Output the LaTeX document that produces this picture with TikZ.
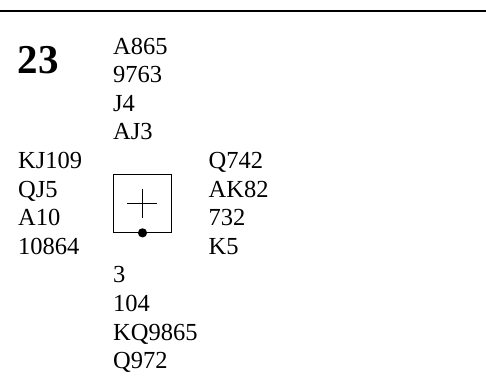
\documentclass[tikz,border=0pt]{standalone}
\usepackage{fontspec}
\setmainfont{Liberation Serif}
\begin{document}
\begin{tikzpicture}[x=1pt,y=-1pt,
  card/.style={anchor=base west,inner sep=0pt,font=\fontsize{24.5}{28}\selectfont},
  num/.style={anchor=base west,inner sep=0pt,font=\fontsize{41}{44}\selectfont\bfseries},
  rule/.style={line width=1.5pt},
  tablebox/.style={draw,line width=1.3pt,minimum width=58pt,minimum height=58pt,inner sep=0pt},
  crossline/.style={line width=1pt}]
\useasboundingbox (0,0) rectangle (486,383);
\coordinate (ruleL) at (0,11);
\coordinate (ruleR) at (486,11);
\draw[rule] (ruleL) -- (ruleR);
\node[num] (board) at (17.5,73.3) {23};
% North
\node[card] (n1) at (113,54) {A865};
\node[card] (n2) at (113,82.6) {9763};
\node[card] (n3) at (113,111.2) {J4};
\node[card] (n4) at (113,139.8) {AJ3};
% West
\node[card] (w1) at (18,168.4) {KJ109};
\node[card] (w2) at (18,197) {QJ5};
\node[card] (w3) at (18,225.6) {A10};
\node[card] (w4) at (18,254.2) {10864};
% East
\node[card] (e1) at (208.5,168.4) {Q742};
\node[card] (e2) at (208.5,197) {AK82};
\node[card] (e3) at (208.5,225.6) {732};
\node[card] (e4) at (208.5,254.2) {K5};
% South
\node[card] (s1) at (113,282.8) {3};
\node[card] (s2) at (113,311.4) {104};
\node[card] (s3) at (113,340) {KQ9865};
\node[card] (s4) at (113,368.6) {Q972};
% table
\node[tablebox] (tbl) at (142.5,203.2) {};
\coordinate (hl) at (127,203.3);
\coordinate (hr) at (157,203.3);
\coordinate (vt) at (142,189);
\coordinate (vb) at (142,218);
\draw[crossline] (hl) -- (hr);
\draw[crossline] (vt) -- (vb);
\fill (tbl.south) circle (4.6pt);
\end{tikzpicture}
\end{document}
